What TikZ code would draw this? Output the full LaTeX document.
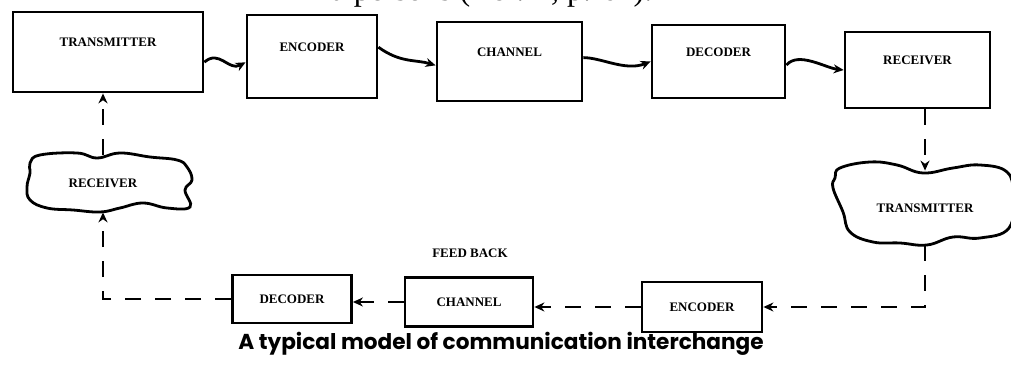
\documentclass[tikz,border=0pt]{standalone}
\usepackage{fontspec}
\setmainfont{Liberation Serif}
\newfontfamily\capfont{Poppins}
\usetikzlibrary{arrows.meta}

\begin{document}
\begin{tikzpicture}[x=0.5pt,y=-0.5pt,
  box/.style 2 args={draw, line width=1.4pt, minimum width=#1, minimum height=#2, inner sep=0pt, font=\fontsize{6.5}{7}\selectfont\bfseries},
  toplbl/.style={text height=4.5pt, text depth=9.5pt},
  cloudlbl/.style 2 args={minimum width=#1, minimum height=#2, inner sep=0pt, font=\fontsize{6.5}{7}\selectfont\bfseries},
  wavy/.style={line width=1.4pt, -{Stealth[length=5pt,width=4.5pt]}},
  fb/.style={line width=1.2pt, dash pattern=on 8pt off 7pt, -{Stealth[length=5pt,width=4.5pt]}}]
\useasboundingbox (0,0) rectangle (1011,367);
\node[anchor=base, font=\fontsize{16}{18}\selectfont] (ref) at (492,1) {a persons (Ref. 1, p. 64).};
% forward chain
\node[box={95pt}{40pt}, toplbl] (tx) at (108,52) {TRANSMITTER};
\node[box={65pt}{41.5pt}, toplbl] (enc) at (312,56.5) {ENCODER};
\node[box={72.5pt}{39.5pt}, toplbl] (ch) at (509.5,61.5) {CHANNEL};
\node[box={66.5pt}{36.5pt}, toplbl] (dec) at (718.5,61.5) {DECODER};
\node[box={72.5pt}{38pt}, toplbl] (rx) at (917.5,70) {RECEIVER};
\draw[wavy] (tx.-6) .. controls +(15,-13) and +(-17,9) .. (enc.185);
\draw[wavy] (enc.8) .. controls +(22,16) and +(-20,-6) .. (ch.183);
\draw[wavy] (ch.3) .. controls +(18,0) and +(-25,10) .. (dec.west);
\draw[wavy] (dec.-3) .. controls +(12,-14) and +(-18,-2) .. (rx.west);
% clouds
\draw[line width=1.4pt] plot[smooth cycle, tension=0.7] coordinates {(40,155) (77,153) (97,158) (120,153) (150,157) (177,160) (187,167) (192,180) (185,190) (190,207) (167,208) (143,203) (120,208) (100,212) (73,210) (47,208) (30,200) (27,187) (30,173) (30,163)};
\node[cloudlbl={84pt}{28.5pt}] (rcv) at (103,183.5) {RECEIVER};
\draw[line width=1.4pt] plot[smooth cycle, tension=0.7] coordinates {(840,168) (870,162) (897,165) (923,173) (953,168) (980,165) (1007,172) (1013,195) (1009,228) (980,238) (953,237) (927,245) (900,243) (873,242) (850,232) (843,212) (833,188) (835,178)};
\node[cloudlbl={85pt}{37pt}] (tcl) at (925,208) {TRANSMITTER};
% feedback chain
\node[font=\fontsize{6.5}{7}\selectfont\bfseries] (fbk) at (470,253) {FEED BACK};
\node[box={60pt}{25pt}] (benc) at (702,307) {ENCODER};
\node[box={64pt}{24.5pt}] (bch) at (469,302) {CHANNEL};
\node[box={59.5pt}{24pt}] (bdec) at (292,299) {DECODER};
\draw[fb] (tcl.north |- rx.south) -- (tcl.north);
\draw[fb] (tcl.south) |- (benc.east);
\draw[fb] (benc.west) -- (benc.west -| bch.east);
\draw[fb] (bch.west) -- (bch.west -| bdec.east);
\draw[fb] (bdec.west) -| (rcv.south);
\draw[fb] (rcv.north) -- (rcv.north |- tx.south);
\node[anchor=base, font=\capfont\bfseries\fontsize{10.8}{12}\selectfont] (cap) at (501,350) {A typical model of communication interchange};
\end{tikzpicture}
\end{document}
